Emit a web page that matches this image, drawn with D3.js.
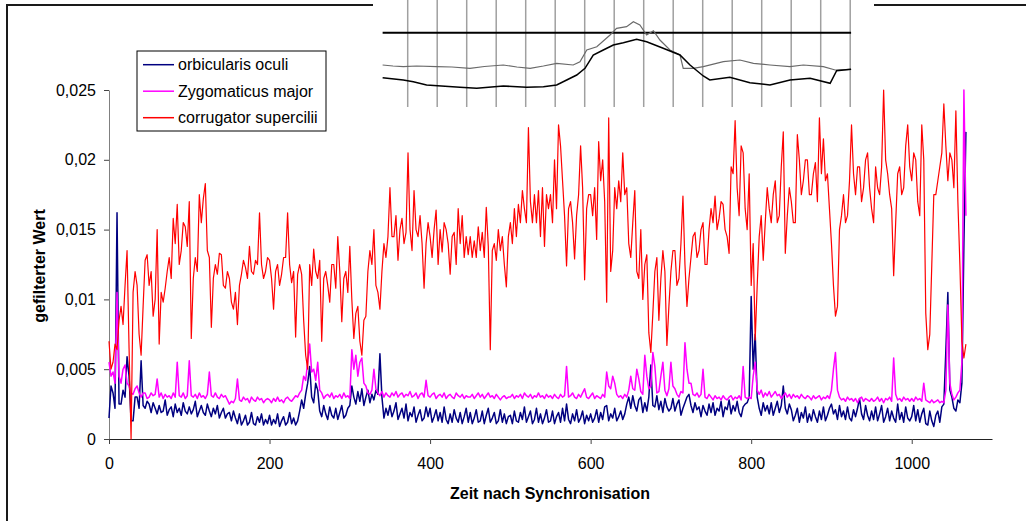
<!DOCTYPE html>
<html lang="de">
  <head>
    <meta charset="utf-8" />
    <title>gefilterter Wert</title>
    <style>
      body { margin: 0; background: #fff; }
      text { font-family: "Liberation Sans", Arial, sans-serif; }
    </style>
  </head>
  <body>
    <script src="https://d3js.org/d3.v7.min.js"></script>
    <div id="chart"></div>

    <script>
      const timeStep = 2.5;

      const orbicularis = [
        1.5, 3.8, 3.3, 2.2, 16.2, 2.5, 2.5, 3.5, 3.0, 5.9, 4.5, 1.3, 1.3, 3.0, 3.0, 2.2, 5.6, 2.4, 2.2, 2.7,
        2.5, 1.9, 2.6, 2.2, 1.8, 2.4, 1.9, 2.0, 2.8, 1.7, 2.1, 2.3, 1.6, 2.5, 1.9, 2.2, 1.7, 2.6, 2.0, 1.8,
        2.3, 1.8, 2.1, 2.7, 1.6, 2.0, 2.4, 1.9, 1.7, 2.5, 2.0, 1.6, 2.2, 1.8, 2.4, 1.5, 1.9, 2.2, 1.5, 1.8,
        1.9, 1.3, 2.0, 1.5, 1.1, 1.8, 1.0, 1.3, 1.7, 1.0, 1.2, 1.9, 1.1, 1.0, 1.6, 1.2, 1.8, 1.0, 1.4, 1.1,
        1.7, 1.0, 1.4, 1.1, 1.8, 0.9, 1.3, 1.6, 1.0, 1.2, 1.9, 1.1, 1.5, 1.0, 1.3, 2.0, 2.8, 2.2, 3.2, 4.0,
        5.2, 3.0, 2.6, 4.0, 3.5, 2.0, 1.6, 2.4, 1.8, 1.4, 2.3, 1.7, 1.5, 2.2, 1.4, 1.9, 2.4, 1.5, 1.7, 2.2,
        2.4, 3.8, 3.0, 2.5, 3.4, 2.7, 3.6, 2.4, 3.0, 3.5, 2.6, 3.2, 2.8, 3.5, 3.2, 6.1, 3.0, 1.5, 2.2, 1.7,
        2.4, 1.6, 2.0, 2.6, 1.4, 1.8, 2.2, 1.5, 2.5, 1.3, 1.9, 1.6, 2.3, 1.2, 1.7, 2.1, 1.3, 1.5, 2.3, 1.6,
        2.2, 1.2, 1.6, 2.1, 1.3, 1.9, 1.2, 2.3, 1.4, 1.1, 1.8, 1.2, 2.1, 1.5, 1.2, 1.9, 1.1, 1.6, 2.2, 1.2,
        1.9, 1.1, 1.5, 2.1, 1.2, 1.3, 2.0, 1.1, 1.7, 2.2, 1.2, 1.5, 1.9, 1.1, 1.3, 2.1, 1.2, 1.8, 1.1, 1.6,
        1.7, 1.1, 2.0, 1.3, 1.2, 1.9, 1.4, 2.3, 1.2, 1.6, 2.0, 1.1, 1.4, 2.2, 1.2, 1.8, 1.1, 1.5, 2.1, 1.2,
        1.3, 2.0, 1.1, 1.6, 1.9, 1.2, 2.2, 1.3, 2.5, 1.4, 1.1, 1.8, 1.3, 2.1, 1.2, 1.5, 2.0, 1.1, 1.7, 1.3,
        1.8, 1.2, 1.5, 2.1, 1.2, 1.9, 1.4, 2.3, 2.4, 1.3, 1.8, 1.5, 2.2, 1.3, 1.6, 2.0, 1.4, 1.8, 2.5, 3.0,
        2.2, 3.1, 2.4, 2.0, 2.8, 3.0, 1.9, 2.6, 2.0, 3.0, 5.3, 2.4, 2.3, 3.1, 2.1, 2.7, 1.9, 2.9, 2.3, 2.0,
        2.2, 2.9, 2.0, 2.5, 2.8, 1.7, 2.2, 2.6, 3.0, 3.2, 2.4, 1.9, 2.6, 2.1, 2.3, 1.6, 2.4, 2.0, 1.7, 2.5,
        1.9, 2.6, 1.7, 2.2, 2.0, 2.7, 1.6, 2.3, 2.1, 2.8, 1.8, 2.4, 2.0, 2.7, 1.9, 1.6, 2.3, 2.5, 2.6, 3.0,
        10.2, 5.0, 7.5, 3.0, 2.2, 1.7, 2.6, 2.0, 2.4, 1.8, 2.6, 1.7, 2.2, 2.7, 1.9, 2.4, 3.8, 2.2, 1.8, 2.5,
        2.1, 1.3, 1.7, 2.2, 1.2, 1.9, 1.5, 2.3, 1.2, 1.8, 1.3, 2.1, 1.6, 1.2, 2.0, 1.4, 2.3, 1.3, 1.7, 2.2,
        2.5, 1.8, 2.1, 1.4, 2.4, 1.6, 2.0, 1.4, 2.3, 1.5, 1.3, 2.1, 1.6, 2.2, 2.9, 1.8, 1.4, 2.4, 1.7, 1.3,
        2.0, 1.4, 2.3, 1.3, 1.8, 2.4, 1.2, 1.6, 2.2, 1.3, 2.0, 1.5, 1.2, 2.5, 1.4, 1.9, 1.2, 2.3, 1.5, 1.3,
        1.6, 2.4, 1.3, 2.1, 1.2, 1.8, 2.2, 1.1, 1.0, 2.0, 1.3, 0.9, 1.7, 2.0, 1.2, 2.3, 2.5, 6.3, 10.5, 3.5,
        3.0, 2.2, 2.0, 2.8, 2.6, 4.0, 14.0, 22.0
      ];

      const zygomaticus = [
        5.5, 4.5, 4.8, 4.0, 10.5, 4.5, 4.0, 5.0, 5.3, 4.0, 3.8, 3.3, 3.2, 3.6, 3.8, 3.3, 3.0, 3.3, 3.3, 2.9,
        3.0, 3.3, 3.1, 3.2, 4.3, 3.0, 3.3, 2.9, 3.2, 3.0, 3.1, 2.9, 3.3, 3.0, 5.5, 3.1, 3.0, 3.3, 2.9, 3.1,
        5.6, 3.1, 3.0, 3.2, 2.9, 3.3, 3.0, 3.1, 2.9, 3.2, 4.8, 3.1, 3.0, 3.3, 3.0, 2.9, 3.2, 3.0, 3.1, 2.8,
        2.5, 2.7, 2.6, 2.9, 4.3, 2.8, 2.7, 3.0, 2.8, 2.9, 2.6, 3.0, 2.8, 2.7, 3.0, 2.8, 2.9, 2.6, 2.8, 2.9,
        2.8, 2.6, 2.9, 2.7, 3.0, 2.7, 2.8, 2.6, 2.9, 3.0, 2.8, 2.7, 2.9, 3.1, 3.0, 3.3, 3.5, 4.5, 4.2, 5.5,
        6.8, 4.8, 5.0, 4.2, 5.5, 3.5, 3.3, 2.9, 3.1, 3.2, 3.0, 3.3, 2.9, 3.1, 3.0, 3.2, 2.9, 3.3, 3.0, 3.1,
        2.9, 6.4, 5.0, 6.0, 4.5, 5.5, 5.8, 4.0, 3.8, 3.3, 3.2, 3.5, 5.0, 3.6, 3.3, 3.1, 3.4, 3.0, 3.3, 3.1,
        3.0, 3.3, 3.1, 3.4, 3.0, 3.2, 3.3, 3.0, 3.2, 3.1, 3.4, 3.0, 3.1, 3.3, 2.9, 3.2, 3.3, 3.0, 4.2, 3.1,
        3.0, 3.2, 3.3, 2.9, 3.1, 3.2, 3.0, 3.3, 2.9, 3.1, 3.2, 3.0, 2.9, 3.3, 3.1, 3.0, 3.2, 2.9, 3.1, 3.0,
        3.0, 3.2, 2.9, 3.1, 3.3, 3.0, 3.2, 2.9, 3.1, 3.3, 3.0, 3.1, 2.9, 3.2, 3.0, 2.8, 3.0, 3.1, 2.9, 3.0,
        3.0, 3.2, 2.9, 3.1, 3.0, 3.2, 2.9, 3.3, 3.1, 3.0, 3.2, 2.9, 3.1, 3.0, 3.3, 3.0, 3.1, 2.9, 3.2, 3.0,
        3.1, 2.9, 3.2, 3.0, 2.9, 3.2, 3.0, 3.1, 5.2, 3.0, 3.1, 3.3, 3.0, 2.9, 3.2, 3.0, 3.3, 3.6, 3.0, 2.9,
        3.1, 3.3, 2.9, 3.1, 3.0, 2.9, 3.2, 3.0, 4.8, 3.8, 3.6, 4.5, 4.0, 3.2, 3.0, 3.1, 2.9, 3.2, 3.0, 3.5,
        4.5, 3.6, 3.5, 5.0, 4.3, 3.4, 3.2, 6.0, 4.5, 3.6, 3.8, 6.2, 5.2, 3.3, 3.4, 4.5, 5.5, 3.5, 3.1, 3.6,
        5.5, 3.8, 3.6, 3.2, 3.0, 3.4, 3.3, 6.9, 5.0, 4.0, 4.0, 3.2, 3.1, 3.3, 3.0, 3.2, 5.0, 3.0, 2.9, 3.2,
        3.0, 2.8, 3.1, 2.9, 3.0, 2.8, 3.1, 2.9, 2.8, 3.0, 3.1, 2.8, 3.0, 2.9, 3.1, 2.8, 5.2, 3.0, 2.9, 3.0,
        2.9, 4.5, 5.5, 3.5, 3.2, 3.5, 3.0, 3.3, 3.1, 3.4, 3.0, 3.2, 3.4, 3.1, 3.2, 2.9, 3.1, 3.3, 3.0, 3.2,
        2.9, 3.2, 3.0, 3.1, 2.9, 3.2, 3.0, 2.9, 3.1, 3.0, 2.8, 3.1, 2.9, 3.0, 3.1, 2.8, 3.0, 2.9, 3.1, 2.9,
        3.5, 5.0, 6.2, 3.5, 3.0, 2.8, 2.9, 2.7, 3.0, 2.8, 2.9, 2.7, 2.9, 2.6, 2.9, 3.0, 2.7, 2.9, 2.8, 2.7,
        2.9, 2.7, 2.8, 3.0, 2.7, 2.9, 2.6, 2.9, 2.8, 3.0, 2.7, 5.8, 3.2, 2.8, 2.9, 2.7, 3.0, 2.8, 2.9, 2.7,
        2.9, 2.7, 3.0, 2.8, 2.9, 2.7, 4.0, 2.8, 2.7, 2.6, 2.8, 2.6, 2.7, 2.8, 2.6, 2.7, 2.6, 3.5, 9.6, 4.0,
        3.2, 2.8, 3.0, 3.3, 3.5, 5.5, 25.0, 16.0
      ];

      const corrugator = [
        7.0, 5.0, 5.5, 6.8, 6.4, 8.5, 9.5, 8.2, 11.0, 13.5, 6.5, 0.0, 10.5, 12.0, 11.0, 7.5, 6.0, 9.5, 12.8, 13.2,
        11.0, 12.0, 8.8, 10.0, 15.0, 6.8, 10.5, 9.8, 10.8, 12.0, 13.0, 11.5, 15.8, 14.0, 16.8, 12.5, 13.5, 15.5, 15.2, 13.8,
        17.0, 7.2, 11.5, 13.0, 12.0, 17.5, 15.5, 17.2, 18.3, 13.5, 13.0, 8.0, 11.5, 12.5, 11.8, 13.3, 13.2, 11.0, 10.8, 12.0,
        11.5, 9.8, 9.3, 10.5, 8.2, 11.0, 11.8, 12.8, 12.3, 11.5, 13.8, 12.0, 11.8, 12.8, 12.5, 16.2, 12.5, 11.5, 12.0, 13.0,
        12.8, 11.5, 9.3, 12.0, 12.5, 11.0, 11.8, 13.0, 13.0, 16.2, 12.5, 11.2, 12.0, 7.3, 11.8, 12.5, 11.8, 8.5, 6.0, 5.0,
        12.5, 11.0, 13.6, 12.0, 11.5, 12.8, 7.0, 11.5, 12.0, 11.0, 9.8, 12.5, 12.5, 10.8, 14.5, 12.0, 8.4, 11.5, 12.0, 10.5,
        13.8, 10.0, 7.2, 9.0, 9.5, 7.0, 6.0, 8.5, 8.8, 12.0, 13.5, 12.5, 15.0, 11.0, 10.5, 9.3, 12.0, 14.0, 13.0, 14.5,
        18.0, 14.5, 14.5, 16.0, 12.8, 15.0, 15.8, 14.0, 14.8, 20.5, 15.0, 13.5, 17.8, 15.0, 14.5, 16.0, 14.0, 10.8, 14.0, 15.5,
        14.5, 13.0, 15.0, 16.4, 12.5, 15.0, 13.4, 15.5, 15.0, 14.0, 11.8, 14.5, 14.8, 12.5, 16.5, 14.0, 16.0, 13.0, 14.5, 13.2,
        14.5, 13.0, 14.2, 13.0, 15.2, 13.5, 14.8, 13.0, 16.6, 13.8, 6.4, 13.5, 14.0, 12.8, 15.0, 13.5, 14.5, 12.5, 10.9, 14.5,
        15.5, 14.0, 16.5, 14.5, 16.8, 15.5, 17.8, 16.5, 15.5, 22.3, 17.0, 15.5, 17.5, 15.5, 17.8, 14.5, 18.0, 13.8, 17.5, 16.5,
        17.5, 15.5, 20.0, 16.5, 22.5, 21.0, 18.5, 16.0, 12.4, 16.5, 17.0, 15.5, 12.9, 16.0, 17.5, 21.0, 18.0, 11.4, 16.5, 17.5,
        17.5, 16.0, 18.0, 14.3, 21.3, 18.5, 20.0, 17.0, 9.8, 23.0, 12.0, 13.5, 18.0, 16.5, 18.5, 17.0, 20.5, 17.5, 18.0, 14.0,
        13.0, 15.5, 17.8, 12.0, 11.5, 15.0, 10.0, 12.5, 13.2, 7.6, 6.2, 9.0, 12.0, 13.0, 8.5, 11.5, 13.5, 12.0, 6.7, 9.5,
        12.0, 13.5, 13.5, 11.0, 11.5, 14.0, 17.4, 12.5, 9.5, 11.5, 13.0, 14.5, 14.8, 13.0, 13.5, 15.0, 15.5, 12.5, 12.5, 15.0,
        16.5, 15.5, 17.4, 15.0, 15.8, 17.0, 16.8, 15.0, 14.5, 13.3, 19.5, 19.0, 22.8, 18.0, 16.0, 21.0, 20.5, 16.5, 15.0, 19.0,
        11.0, 14.0, 7.1, 11.0, 14.5, 16.0, 12.8, 15.5, 18.0, 16.5, 15.5, 17.5, 18.5, 15.5, 16.0, 19.5, 22.0, 13.3, 16.0, 18.0,
        17.0, 15.5, 15.5, 21.8, 20.0, 17.5, 18.5, 20.0, 20.0, 17.5, 17.5, 19.0, 19.8, 17.0, 23.0, 19.0, 21.5, 18.5, 19.0, 16.5,
        14.0, 11.0, 8.8, 9.5, 15.0, 16.0, 17.5, 15.5, 16.0, 18.5, 22.5, 19.0, 17.5, 19.5, 19.5, 17.0, 18.0, 20.0, 20.5, 18.0,
        16.5, 15.5, 19.5, 18.0, 17.5, 19.5, 25.0, 20.0, 19.0, 17.5, 16.5, 11.7, 15.5, 19.0, 19.5, 17.5, 18.0, 21.0, 22.5, 19.5,
        18.5, 20.5, 20.0, 17.0, 16.0, 22.5, 20.0, 9.0, 6.4, 7.5, 12.5, 17.5, 17.5, 18.5, 19.5, 20.5, 24.0, 21.0, 18.5, 20.5,
        20.0, 18.0, 23.5, 17.0, 12.5, 7.0, 5.8, 6.8
      ];

      const seriesNames = ["orbicularis oculi", "Zygomaticus major", "corrugator supercilii"];
      const seriesColors = ["#000080", "#ff00ff", "#ff0000"];

      const xTicks = [0, 200, 400, 600, 800, 1000];
      const yTicks = [0, 0.005, 0.01, 0.015, 0.02, 0.025];
      const yTickLabels = ["0", "0,005", "0,01", "0,015", "0,02", "0,025"];

      // pasted picture at the top: grid columns, a reference level and two traces [column, level]
      const insetGrid = [1, 2, 3, 4, 5, 6, 7, 8, 9, 10, 11, 12, 13, 14, 15, 16];
      const insetLevel = 74.3;
      const insetGrey = [
        [0.15, 42], [0.5, 41], [0.85, 40.3], [1.3, 41], [1.98, 40.3], [2.5, 40], [3.11, 38.7],
        [3.6, 40.5], [4.24, 42], [4.7, 40], [5.15, 38.7], [5.6, 41], [6.05, 43.7], [6.61, 42],
        [6.84, 45.3], [7.07, 57], [7.41, 60.3], [7.86, 72], [8.08, 78.7], [8.42, 80.3],
        [8.65, 85.3], [8.87, 82], [9.1, 72], [9.33, 76.3], [9.55, 67], [9.89, 57], [10.23, 52],
        [10.34, 38.7], [10.68, 38.7], [11.02, 40.3], [11.7, 45.3], [12.26, 47], [12.72, 43.7],
        [13.28, 42], [13.96, 40.3], [14.41, 42], [15.09, 40.3], [15.49, 37], [16.03, 37.7]
      ];
      const insetBlack = [
        [0.15, 29.3], [0.85, 27], [1.19, 25.3], [1.64, 22], [2.77, 19.7], [3.34, 18.7],
        [4.24, 21], [5.03, 19.7], [5.6, 20.3], [6.05, 22], [6.39, 27], [6.73, 32], [7.01, 38.7],
        [7.29, 52], [7.63, 57], [7.97, 62], [8.31, 64.3], [8.76, 67.7], [9.1, 65.3],
        [9.66, 58.7], [10.23, 52], [10.57, 42], [11.02, 31], [11.24, 27], [11.92, 29.7],
        [12.6, 24.3], [13.28, 22], [13.96, 27], [14.64, 28.7], [15.32, 23.7], [15.54, 36.3],
        [16.03, 37.7]
      ];

      const width = 1026, height = 521;

      const svg = d3
        .select("#chart")
        .append("svg")
        .attr("width", width)
        .attr("height", height);

      // outer frame of the pasted chart (runs off the right and bottom edge)
      svg
        .append("rect")
        .attr("x", 7)
        .attr("y", 5)
        .attr("width", 1100)
        .attr("height", 600)
        .attr("fill", "none")
        .attr("stroke", "#1a1a1a")
        .attr("stroke-width", 2);

      const x = d3.scaleLinear().domain([0, 1100]).range([109, 992]);
      const y = d3.scaleLinear().domain([0, 0.025]).range([439, 90]);

      // axes
      const yAxis = svg
        .append("g")
        .attr("transform", "translate(109,0)")
        .call(
          d3
            .axisLeft(y)
            .tickValues(yTicks)
            .tickFormat((d, i) => yTickLabels[i])
            .tickSize(5)
            .tickSizeOuter(0)
            .tickPadding(8)
        );
      yAxis.select(".domain").attr("stroke", "#808080");
      yAxis.selectAll(".tick line").attr("stroke", "#444");

      const xAxis = svg
        .append("g")
        .attr("transform", "translate(0,439)")
        .call(
          d3
            .axisBottom(x)
            .tickValues(xTicks)
            .tickFormat(d3.format("d"))
            .tickSize(5)
            .tickSizeOuter(0)
            .tickPadding(13.6)
        );
      xAxis.select(".domain").attr("stroke", "#222");
      xAxis.selectAll(".tick line").attr("stroke", "#444");

      svg
        .selectAll(".tick text")
        .attr("font-size", 16)
        .attr("font-family", '"Liberation Sans", Arial, sans-serif')
        .attr("fill", "#000");

      // axis titles
      svg
        .append("text")
        .attr("x", 550)
        .attr("y", 499)
        .attr("text-anchor", "middle")
        .attr("font-size", 16)
        .attr("font-weight", "bold")
        .text("Zeit nach Synchronisation");

      svg
        .append("text")
        .attr("transform", "translate(45,266) rotate(-90)")
        .attr("text-anchor", "middle")
        .attr("font-size", 16)
        .attr("font-weight", "bold")
        .text("gefilterter Wert");

      // the three series
      const series = [orbicularis, zygomaticus, corrugator].map((vals, k) => ({
        name: seriesNames[k],
        color: seriesColors[k],
        width: k === 2 ? 1.2 : 1.5,
        points: vals.map((v, i) => ({ t: i * timeStep, n: v / 1000 }))
      }));

      const line = d3
        .line()
        .x(d => x(d.t))
        .y(d => y(d.n));

      svg
        .selectAll(".serie")
        .data(series)
        .join("path")
        .attr("class", "serie")
        .attr("fill", "none")
        .attr("stroke", d => d.color)
        .attr("stroke-width", d => d.width)
        .attr("stroke-linejoin", "round")
        .attr("d", d => line(d.points));

      // legend
      const legend = svg.append("g").attr("transform", "translate(137,51)");
      legend
        .append("rect")
        .attr("width", 189)
        .attr("height", 80)
        .attr("fill", "#fff")
        .attr("stroke", "#000")
        .attr("stroke-width", 1);

      const item = legend
        .selectAll(".item")
        .data(series)
        .join("g")
        .attr("class", "item")
        .attr("transform", (d, i) => `translate(0,${13.7 + i * 26.5})`);
      item
        .append("line")
        .attr("x1", 6)
        .attr("x2", 37)
        .attr("stroke", d => d.color)
        .attr("stroke-width", 1.5);
      item
        .append("text")
        .attr("x", 41)
        .attr("y", 5.6)
        .attr("font-size", 16)
        .text(d => d.name);

      // inset picture pasted over the top of the chart
      const ix = d3.scaleLinear().domain([0, 16]).range([378.2, 850.2]);
      const iy = d3.scaleLinear().domain([0, 107]).range([107, 0]);

      const inset = svg.append("g");
      inset
        .append("rect")
        .attr("x", 373)
        .attr("y", 0)
        .attr("width", 501)
        .attr("height", 107)
        .attr("fill", "#fff");

      inset
        .selectAll(".grid")
        .data(insetGrid)
        .join("line")
        .attr("class", "grid")
        .attr("x1", d => ix(d))
        .attr("x2", d => ix(d))
        .attr("y1", iy(107))
        .attr("y2", iy(0))
        .attr("stroke", "#a0a0a0")
        .attr("stroke-width", 1.5);

      inset
        .append("line")
        .attr("x1", ix(0.15))
        .attr("x2", ix(16.03))
        .attr("y1", iy(insetLevel))
        .attr("y2", iy(insetLevel))
        .attr("stroke", "#000")
        .attr("stroke-width", 2);

      const insetLine = d3
        .line()
        .x(d => ix(d[0]))
        .y(d => iy(d[1]));

      inset
        .append("path")
        .attr("fill", "none")
        .attr("stroke", "#6a6a6a")
        .attr("stroke-width", 1.2)
        .attr("d", insetLine(insetGrey));

      inset
        .append("path")
        .attr("fill", "none")
        .attr("stroke", "#000")
        .attr("stroke-width", 1.5)
        .attr("d", insetLine(insetBlack));
    </script>
  </body>
</html>
